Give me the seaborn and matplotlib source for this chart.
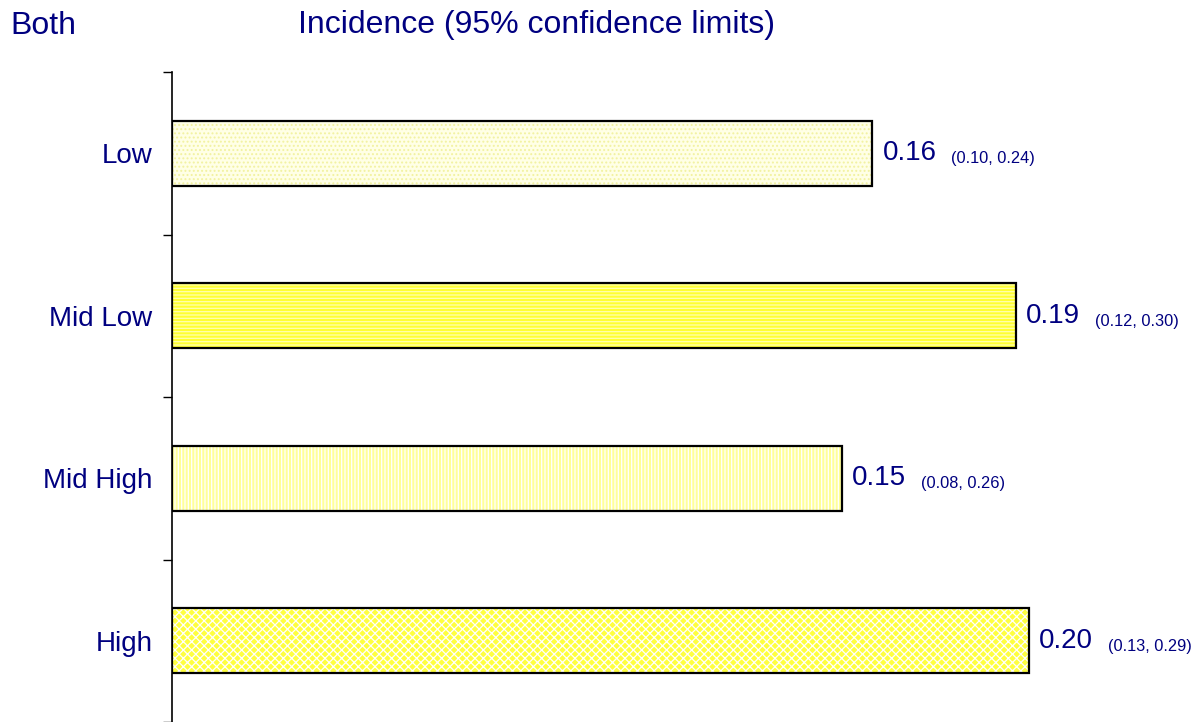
import matplotlib
matplotlib.use("Agg")
import matplotlib.pyplot as plt
import seaborn as sns
import pandas as pd
from matplotlib.patches import Rectangle

categories = ["Low", "Mid Low", "Mid High", "High"]
incidence = [0.161, 0.194, 0.154, 0.197]
ci_low = [0.10, 0.12, 0.08, 0.13]
ci_high = [0.24, 0.30, 0.26, 0.29]

face_colors = ["#FFFFE6", "#FFFF33", "#FFFF99", "#FFFF40"]
hatch_colors = ["#F2F2A0", "#FFFFB0", "#FFFFFF", "#FFFFFF"]
hatches = ["....", "-----", "|||||", "xxxx"]

sns.set_theme(style="white")
plt.rcParams["font.family"] = ["Liberation Sans", "DejaVu Sans"]
plt.rcParams["hatch.linewidth"] = 0.9

navy = "#000080"
W, H = 1202, 722
fig = plt.figure(figsize=(W / 100, H / 100), dpi=100)
ax = fig.add_axes([172 / W, 0, 1 - 172 / W, 650 / H])

df = pd.DataFrame({"cat": categories, "val": incidence})
sns.barplot(data=df, x="val", y="cat", orient="h", width=0.4, ax=ax,
            color="#FFFF99", saturation=1)

for i, p in enumerate(ax.patches):
    p.set_facecolor(face_colors[i])
    p.set_hatch(hatches[i])
    p.set_edgecolor(hatch_colors[i])
    p.set_linewidth(0)
    ov = Rectangle(p.get_xy(), p.get_width(), p.get_height(), fill=False,
                   edgecolor="black", linewidth=1.6, zorder=p.get_zorder() + 1)
    ax.add_patch(ov)

ax.set_xlim(0, (W - 172) / 4350)
ax.set_ylim(3.5, -0.5)
ax.set_xlabel("")
ax.set_ylabel("")
ax.set_xticks([])
for s in ["top", "right", "bottom"]:
    ax.spines[s].set_visible(False)
ax.spines["left"].set_color("black")
ax.spines["left"].set_linewidth(1.2)

ax.set_yticks(range(len(categories)))
ax.set_yticklabels(categories, color=navy, fontsize=20)
ax.tick_params(axis="y", which="major", length=0, pad=14)
ax.set_yticks([k - 0.5 for k in range(len(categories) + 1)], minor=True)
ax.tick_params(axis="y", which="minor", left=True, length=6.5, width=1.0,
               color="black", direction="out")

for i, v in enumerate(incidence):
    t = ax.annotate(f"{v:.2f}", xy=(v, i), xytext=(7.5, 0),
                    textcoords="offset points", va="center", ha="left",
                    color=navy, fontsize=20)
    ax.annotate(f"({ci_low[i]:.2f}, {ci_high[i]:.2f})", xy=(1, 0), xycoords=t,
                xytext=(10.5, 0), textcoords="offset points", va="bottom",
                ha="left", color=navy, fontsize=11.8)

fig.text(10 / W, 1 - 34 / H, "Both", color=navy, fontsize=23, va="baseline")
fig.text(298 / W, 1 - 33 / H, "Incidence (95% confidence limits)", color=navy,
         fontsize=23, va="baseline")

fig.savefig("out.png", dpi=100)
